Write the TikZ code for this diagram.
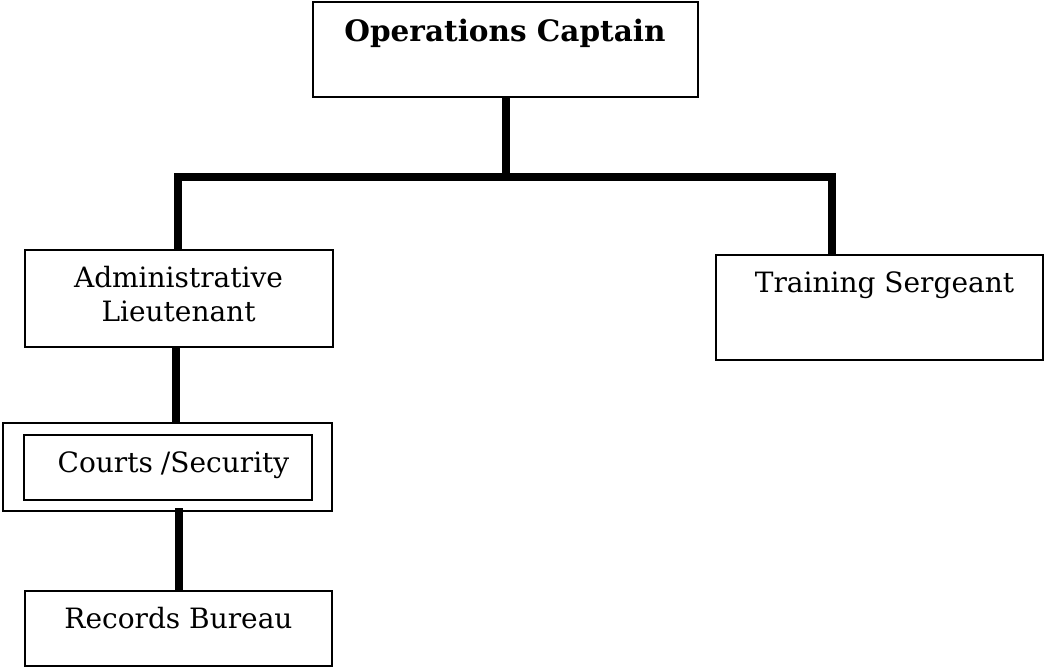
\documentclass[tikz,border=0pt]{standalone}
\usepackage{fontspec}
\setmainfont{DejaVu Serif}
\begin{document}
\begin{tikzpicture}[x=1pt,y=-1pt,
  box/.style={draw=black,line width=2.1pt,rectangle,inner sep=0pt,anchor=center},
  lbl/.style={inner sep=0pt,anchor=base,font=\fontsize{28}{35}\selectfont},
  link/.style={draw=black,line width=7.5pt}]
\useasboundingbox (0,0) rectangle (1044,668);
\node[box,minimum width=385pt,minimum height=95pt] (cap) at (505.5,49.5) {};
\node[box,minimum width=308pt,minimum height=97pt] (adm) at (179,298.5) {};
\node[box,minimum width=329pt,minimum height=88pt] (crt) at (167.5,467) {};
\node[box,minimum width=288pt,minimum height=65pt] (crtin) at (168,467.5) {};
\node[box,minimum width=307pt,minimum height=75pt] (rec) at (178.5,628.5) {};
\node[box,minimum width=327pt,minimum height=105pt] (trn) at (879.5,307.5) {};
\node[lbl,font=\fontsize{29.5}{35}\selectfont\bfseries] (capt) at (505,42) {Operations Captain};
\node[lbl,align=center] (admt) at (178.5,322) {Administrative\\Lieutenant};
\node[lbl] (crtt) at (173.5,472) {Courts\hspace{8pt}/Security};
\node[lbl] (rect) at (178.5,628) {Records Bureau};
\node[lbl] (trnt) at (884.5,293) {Training Sergeant};
\coordinate (j) at (506,177);
\coordinate (jl) at (178,177);
\coordinate (jr) at (832,177);
\draw[link] (cap.south -| j) -- (j);
\draw[link,line cap=rect] (jl) -- (jr);
\draw[link] (jl) -- (jl |- adm.north);
\draw[link] (jr) -- (jr |- trn.north);
\draw[link] (adm.south -| 176,0) -- (crt.north -| 176,0);
\draw[link] ([yshift=4pt]crt.south -| 179,0) -- (rec.north -| 179,0);
\end{tikzpicture}
\end{document}
